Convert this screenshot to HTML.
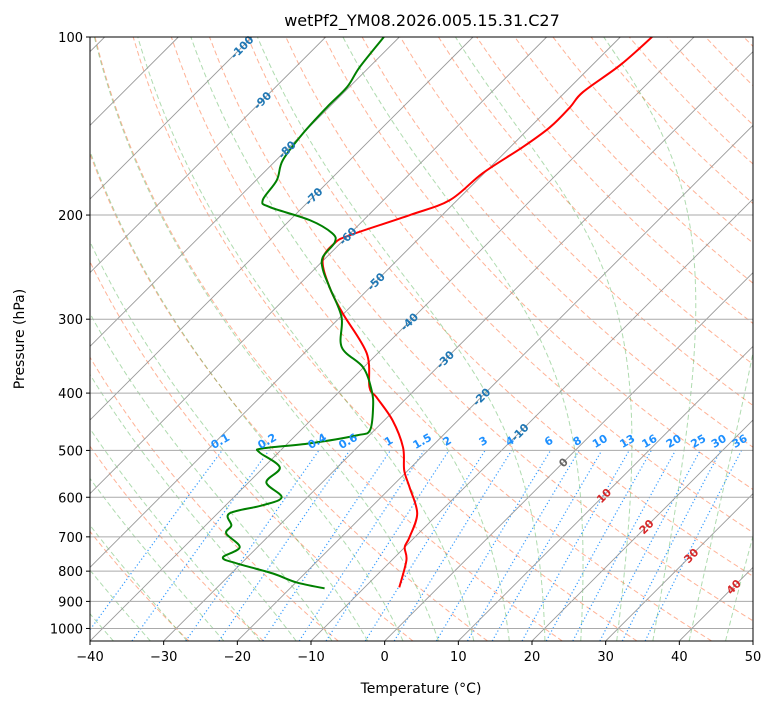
<!DOCTYPE html>
<html><head><meta charset="utf-8"><style>
html,body{margin:0;padding:0;background:#fff;}
svg{display:block;font-family:"DejaVu Sans","Liberation Sans",sans-serif;}
</style></head><body>
<svg id="chart" width="775" height="708" viewBox="0 0 775 708" xmlns="http://www.w3.org/2000/svg">
<defs><clipPath id="pc"><rect x="90" y="37" width="663" height="604"/></clipPath></defs>
<rect x="0" y="0" width="775" height="708" fill="#fff"/>
<text x="422" y="26" text-anchor="middle" font-size="16">wetPf2_YM08.2026.005.15.31.C27</text>
<g id="bg" clip-path="url(#pc)"></g>
<g id="marks" clip-path="url(#pc)"></g>
<g id="labels"></g>
<rect x="90" y="37" width="663" height="604" fill="none" stroke="#000" stroke-width="1"/>
<g id="axes"></g>
<text x="421" y="693" text-anchor="middle" font-size="14">Temperature (°C)</text>
<text x="24" y="339" text-anchor="middle" font-size="14" transform="rotate(-90 24 339)">Pressure (hPa)</text>
</svg>
<script>
const tempP = [100,111.5,123.9,131.4,142,153.5,169.9,188.7,200,216.3,223.2,238.5,266,293.1,342.5,391,406.5,444.6,494,540.5,577,639,701.5,729,767,852];
const tempT = [-45.7,-46.2,-47.6,-47.3,-47.3,-48.3,-50.2,-51.0,-54.4,-59.8,-60.8,-60.1,-55.3,-50.2,-41.5,-36.5,-34.2,-28.9,-23.8,-20.5,-17.5,-12.9,-10.7,-10.0,-8.0,-5.3];
const dewP = [100,112.4,121.5,131.4,145.4,161.5,174.6,188.7,193.9,204,214.6,222.3,235.7,247.9,266,297.7,334.6,361.7,395.7,422.7,462.4,471.5,486.4,496,503.8,534.2,566.2,600,619.2,639,669.6,690.9,729,758.6,776.2,807,836,855.5];
const dewT = [-82.1,-81.3,-80.3,-80.3,-80.0,-79.1,-77.2,-76.4,-74.5,-67.3,-62.5,-60.9,-60.5,-58.7,-55.3,-49.8,-45.7,-40.1,-35.8,-33.3,-30.6,-31.7,-37.0,-42.7,-42.6,-37.8,-37.6,-33.5,-35.0,-38.4,-36.5,-36.1,-32.4,-33.3,-30.6,-24.4,-19.9,-15.3];
const xTicks = [-40,-30,-20,-10,0,10,20,30,40,50];
const yTicks = [100,200,300,400,500,600,700,800,900,1000];
const isoLabelT = [-100,-90,-80,-70,-60,-50,-40,-30,-20,-10,0,10,20,30,40];
const isoLabelP = [104,128,155,186,217,259,303,351,406,466,524,596,673,753,850];
const mixW = [0.1,0.2,0.4,0.6,1,1.5,2,3,4,6,8,10,13,16,20,25,30,36];

const NS="http://www.w3.org/2000/svg";
const X0=90,X1=753,Y0=37,Y1=641,TMIN=-40,TMAX=50,PTOP=100,PBOT=1050;
const sx=(X1-X0)/(TMAX-TMIN), dec=(Y1-Y0)/Math.log10(PBOT/PTOP);
function yOf(p){return Y0+dec*Math.log10(p/PTOP);}
function xOf(T,p){return X0+(T-TMIN)*sx+(Y1-yOf(p));}
function mk(tag,attrs,parent){const e=document.createElementNS(NS,tag);for(const k in attrs)e.setAttribute(k,attrs[k]);parent.appendChild(e);return e;}
const bg=document.getElementById('bg'),marks=document.getElementById('marks'),labels=document.getElementById('labels'),axes=document.getElementById('axes');
function pathFrom(ps,Ts){let d='';for(let i=0;i<ps.length;i++){d+=(i?'L':'M')+xOf(Ts[i],ps[i]).toFixed(2)+','+yOf(ps[i]).toFixed(2);}return d;}
function smoothPath(ps,Ts){
  const pts=ps.map((p,i)=>[xOf(Ts[i],p),yOf(p)]);
  let d='M'+pts[0][0].toFixed(2)+','+pts[0][1].toFixed(2);
  for(let i=0;i<pts.length-1;i++){
    const p0=pts[Math.max(i-1,0)],p1=pts[i],p2=pts[i+1],p3=pts[Math.min(i+2,pts.length-1)];
    const c1=[p1[0]+(p2[0]-p0[0])/6,p1[1]+(p2[1]-p0[1])/6],c2=[p2[0]-(p3[0]-p1[0])/6,p2[1]-(p3[1]-p1[1])/6];
    d+='C'+c1[0].toFixed(2)+','+c1[1].toFixed(2)+' '+c2[0].toFixed(2)+','+c2[1].toFixed(2)+' '+p2[0].toFixed(2)+','+p2[1].toFixed(2);
  }
  return d;
}

// dry adiabats
for(let th=-30;th<200;th+=10){
  const ps=[],Ts=[];
  for(let p=PBOT;p>=PTOP-1;p-=10){ps.push(p);Ts.push((th+273.15)*Math.pow(p/1000,0.2857)-273.15);}
  const e=mk('path',{d:pathFrom(ps,Ts),fill:'none',stroke:'#ff7f50','stroke-opacity':'0.6','stroke-width':'1','stroke-dasharray':'5,3'},bg);
  
  
}
// moist adiabats
function es(Tc){return 6.112*Math.exp(17.67*Tc/(Tc+243.5));}
function dTdp(p,T){const Tc=T-273.15;const e=es(Tc);const rs=0.622*e/Math.max(p-e,1);return (287.04*T+2.501e6*rs)/(p*(1005.7+2.501e6*2.501e6*rs*0.622/(287.04*T*T)));}
function integ(T0,p0,p1,dp){const ps=[p0],Ts=[T0-273.15];let T=T0;for(let p=p0;dp<0?p>p1:p<p1;p+=dp){const k1=dTdp(p,T);const k2=dTdp(p+dp/2,T+k1*dp/2);T+=k2*dp;ps.push(p+dp);Ts.push(T-273.15);}return [ps,Ts];}
for(let t0=-50;t0<=45;t0+=5){
  const up=integ(t0+273.15,1000,PTOP,-5),dn=integ(t0+273.15,1000,PBOT,5);
  const ps=dn[0].slice().reverse().concat(up[0].slice(1)),Ts=dn[1].slice().reverse().concat(up[1].slice(1));
  const e=mk('path',{d:pathFrom(ps,Ts),fill:'none',stroke:'#2ca02c','stroke-opacity':'0.38','stroke-width':'1','stroke-dasharray':'5,3'},bg);
  
  
}
// mixing ratio lines
function tdFromW(w,p){const e=p*w/(0.622+w);const l=Math.log(e/6.112);return 243.5*l/(17.67-l);}
mixW.forEach(w=>{
  const ps=[],Ts=[];for(let p=PBOT;p>=500;p-=10){ps.push(p);Ts.push(tdFromW(w/1000,p));}
  const e=mk('path',{d:pathFrom(ps,Ts),fill:'none',stroke:'#1e90ff','stroke-opacity':'0.9','stroke-width':'1.2','stroke-dasharray':'1.2,2.4'},bg);
  
  
  const x=xOf(tdFromW(w/1000,500),500),y=yOf(500)-6;
  const t=mk('text',{x:x.toFixed(1),y:y.toFixed(1),'font-size':'11','font-weight':'bold',fill:'#1e90ff','text-anchor':'middle',transform:`rotate(-30 ${x.toFixed(1)} ${y.toFixed(1)})`},labels);
  
  
  t.textContent=String(w);
});
// isotherms
for(let T=-140;T<=50;T+=10){
  const e=mk('line',{x1:xOf(T,PBOT),y1:Y1,x2:xOf(T,PTOP),y2:Y0,stroke:'#999','stroke-width':'0.9'},bg);
  
  
}
// horizontal grid
yTicks.forEach(p=>{
  const e=mk('line',{x1:X0,y1:yOf(p),x2:X1,y2:yOf(p),stroke:'#aaa','stroke-width':'1'},bg);
  
  
});
// isotherm labels
isoLabelT.forEach((T,i)=>{
  const p=isoLabelP[i],x=xOf(T,p),y=yOf(p)+4;
  const col=T<0?'#1f77b4':(T===0?'#666':'#d62728');
  const t=mk('text',{x:x.toFixed(1),y:y.toFixed(1),'font-size':'11','font-weight':'bold',fill:col,'text-anchor':'middle',transform:`rotate(-45 ${x.toFixed(1)} ${(y-4).toFixed(1)})`},labels);
  
  
  t.textContent=String(T);
});
// profiles
const tl=mk('path',{d:smoothPath(tempP,tempT),fill:'none',stroke:'#ff0000','stroke-width':'2','stroke-linejoin':'round'},marks);


const dl=mk('path',{d:smoothPath(dewP,dewT),fill:'none',stroke:'#008000','stroke-width':'2','stroke-linejoin':'round'},marks);


// axes ticks
xTicks.forEach(T=>{
  const x=X0+(T-TMIN)*sx;
  const l=mk('line',{x1:x,y1:Y1,x2:x,y2:Y1+4,stroke:'#000','stroke-width':'1'},axes);
  
  
  const t=mk('text',{x:x,y:Y1+20,'font-size':'13','text-anchor':'middle'},axes);
  
  
  t.textContent=T<0?'\u2212'+(-T):String(T);
});
yTicks.forEach(p=>{
  const y=yOf(p);
  const l=mk('line',{x1:X0-4,y1:y,x2:X0,y2:y,stroke:'#000','stroke-width':'1'},axes);
  
  
  const t=mk('text',{x:X0-7,y:y+5,'font-size':'13','text-anchor':'end'},axes);
  
  
  t.textContent=String(p);
});
</script>
</body></html>
